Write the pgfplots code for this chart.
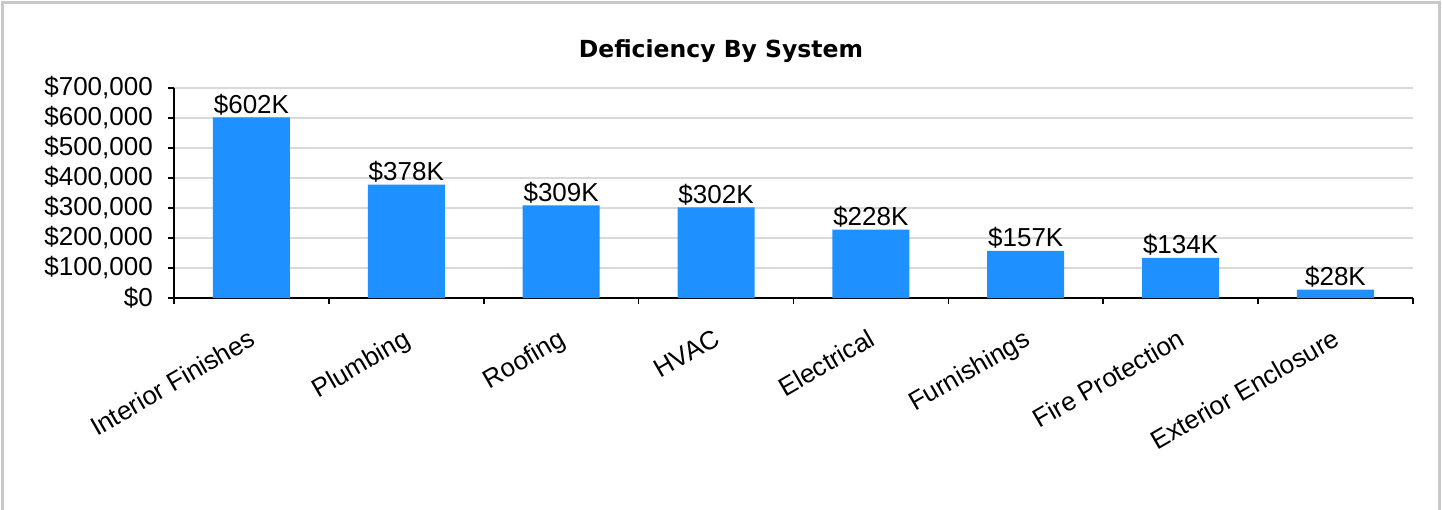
\documentclass[border=0pt]{standalone}
\usepackage{fontspec}
\setmainfont{Liberation Sans}
\newfontfamily\titlefont{DejaVu Sans}
\usepackage{pgfplots}
\pgfplotsset{compat=1.18}
\definecolor{barblue}{HTML}{1E90FF}
\definecolor{framegray}{HTML}{C8C8C8}
\definecolor{gridgray}{HTML}{D9D9D9}
\begin{document}
\begin{tikzpicture}
\path[use as bounding box] (0,0) rectangle (1442bp,510bp);
\draw[framegray, line width=2.5bp] (2.5bp,0) -- (2.5bp,507.5bp) -- (1439.5bp,507.5bp) -- (1439.5bp,0);
\node[font={\titlefont\bfseries\fontsize{23.5bp}{28bp}\selectfont}] at (721bp,459bp) {Deficiency By System};
\begin{axis}[
  at={(174bp,212bp)}, anchor=south west,
  scale only axis, width=1239bp, height=210bp,
  xmin=0.5, xmax=8.5, ymin=0, ymax=700000,
  scaled y ticks=false,
  axis x line*=bottom, axis y line*=left,
  axis line style={black, line width=1.6bp},
  ybar, bar width=77bp,
  ymajorgrids, grid style={gridgray, line width=1.2bp},
  ytick={0,100000,...,700000},
  yticklabels={{\$0},{\$100,000},{\$200,000},{\$300,000},{\$400,000},{\$500,000},{\$600,000},{\$700,000}},
  tick align=outside, major tick length=6bp,
  tick style={black, line width=1.6bp},
  yticklabel style={font=\fontsize{26bp}{30bp}\selectfont, inner sep=0pt, xshift=-15bp},
  xtick={0.5,1.5,...,8.5}, xticklabels={},
  extra x ticks={1,2,3,4,5,6,7,8},
  extra x tick labels={Interior Finishes,Plumbing,Roofing,HVAC,Electrical,Furnishings,Fire Protection,Exterior Enclosure},
  extra x tick style={major tick length=0pt, tick style={draw=none},
    xticklabel style={font=\fontsize{26bp}{30bp}\selectfont, rotate=30, anchor=north east, inner sep=0pt, xshift=-18bp, yshift=-24bp}},
  point meta=explicit symbolic,
  nodes near coords,
  every node near coord/.append style={font=\fontsize{26bp}{30bp}\selectfont, anchor=south, inner sep=0pt, yshift=2bp, black},
  clip=false,
]
\addplot[fill=barblue, draw=none] coordinates {
  (1,602000) [\$602K]
  (2,378000) [\$378K]
  (3,309000) [\$309K]
  (4,302000) [\$302K]
  (5,228000) [\$228K]
  (6,157000) [\$157K]
  (7,134000) [\$134K]
  (8,28000) [\$28K]
};
\end{axis}
\end{tikzpicture}
\end{document}
